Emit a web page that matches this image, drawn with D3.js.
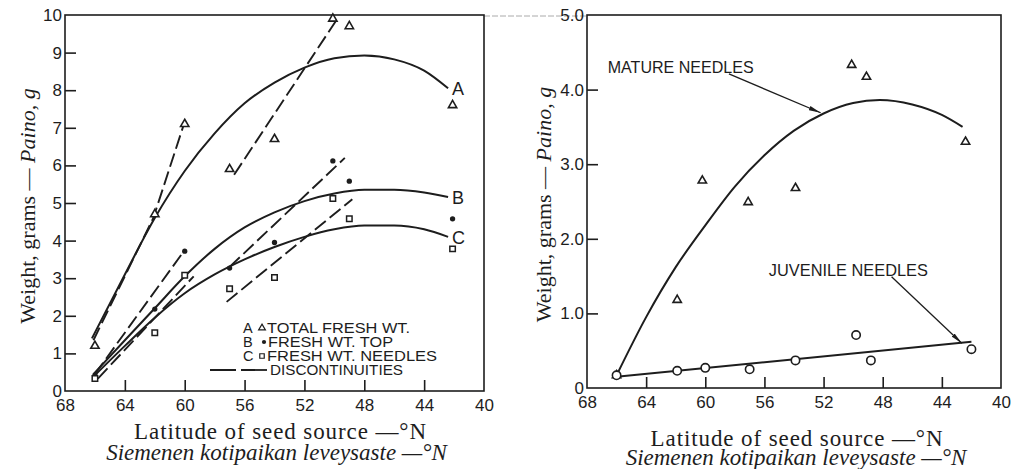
<!DOCTYPE html>
<head>
    <meta charset="utf-8">
    <title>Weight vs latitude of seed source</title>
    <script src="https://cdn.jsdelivr.net/npm/d3@7"></script>
    <style>
        body { margin: 0; background: #fff; }
    </style>
</head>
<body>

<div id="container"></div>

<script>

// Dimensions
const width = 1018;
const height = 469;
const ink = "#1d1d1d";

// ---- Left panel data (latitude in °N, weight in g)
const latLeft = [66, 62, 60, 57, 54, 50.1, 49, 42.1];
const totalWt = [1.2, 4.7, 7.1, 5.9, 6.7, 9.9, 9.7, 7.6];
const topWt = [0.42, 2.18, 3.72, 3.27, 3.95, 6.12, 5.58, 4.58];
const needleWt = [0.33, 1.55, 3.08, 2.72, 3.02, 5.12, 4.58, 3.78];

// fitted curves
const curveA = [[66.2, 1.4], [64, 3.1], [62, 4.6], [60, 5.85], [58, 6.85], [56, 7.65], [54, 8.2], [52, 8.6], [50, 8.85], [48, 8.92], [46, 8.82], [44, 8.52], [42.4, 8.05]];
const curveB = [[66.1, 0.45], [64, 1.35], [62, 2.2], [60, 3.05], [58, 3.78], [56, 4.35], [54, 4.75], [52, 5.05], [50, 5.25], [48, 5.35], [46, 5.35], [44, 5.28], [42.4, 5.16]];
const curveC = [[66.1, 0.38], [64, 1.2], [62, 1.95], [60, 2.6], [58, 3.1], [56, 3.5], [54, 3.83], [52, 4.1], [50, 4.3], [48, 4.4], [46, 4.4], [44, 4.3], [42.4, 4.1]];

// discontinuities (dashed)
const dashA1 = [[66.1, 1.35], [62.1, 4.6], [60.05, 7.1]];
const dashA2 = [[56.7, 5.75], [49.8, 9.9]];
const dashB1 = [[66, 0.45], [60, 3.75]];
const dashB2 = [[57, 3.3], [49.3, 6.2]];
const dashC1 = [[65.8, 0.33], [59.4, 3.05]];
const dashC2 = [[57.2, 2.37], [48.8, 5.1]];

const legendLetters = ["A", "B", "C"];
const legendLabels = ["TOTAL  FRESH WT.", "FRESH WT. TOP", "FRESH WT. NEEDLES"];
const legendDash = "DISCONTINUITIES";

// ---- Right panel data
const latMature = [66, 61.9, 60.2, 57.1, 53.9, 50.1, 49.1, 42.4];
const matureWt = [0.17, 1.18, 2.78, 2.49, 2.68, 4.33, 4.17, 3.3];
const latJuvenile = [66, 61.9, 60, 57, 53.9, 49.8, 48.8, 42.0];
const juvenileWt = [0.17, 0.23, 0.27, 0.25, 0.37, 0.71, 0.37, 0.52];

const curveMature = [[66, 0.17], [64, 0.95], [62, 1.62], [60, 2.18], [58, 2.7], [56, 3.12], [54, 3.45], [52, 3.68], [50, 3.82], [48.2, 3.86], [46, 3.8], [44, 3.66], [42.6, 3.5]];
const lineJuvenile = [[66, 0.15], [42.0, 0.62]];

const matureArrow = [[58.4, 4.21], [52.2, 3.69]];
const juvenileArrow = [[47.4, 1.49], [42.65, 0.6]];

// ticks
const latTicks = [68, 64, 60, 56, 52, 48, 44, 40];
const leftYTicks = d3.range(0, 11);
const rightYTicks = [0, 1, 2, 3, 4, 5];

// Create the SVG container.
const svg = d3.create("svg")
    .attr("width", width)
    .attr("height", height)
    .style("background", "#fff");

const defs = svg.append("defs");
defs.append("marker")
    .attr("id", "arrow")
    .attr("viewBox", "0 0 12 6")
    .attr("refX", 12).attr("refY", 3)
    .attr("markerWidth", 12).attr("markerHeight", 6)
    .attr("markerUnits", "userSpaceOnUse")
    .attr("orient", "auto")
    .append("path")
    .attr("d", "M0,0.8 L12,3 L0,5.2 Z")
    .attr("fill", ink);

// faint scan line joining the two frames at the top
svg.append("line")
    .attr("x1", 484).attr("x2", 588).attr("y1", 16).attr("y2", 16)
    .attr("stroke", "#aaa").attr("stroke-width", 1)
    .attr("stroke-dasharray", "6,2");

const sans = "'Liberation Sans', Arial, sans-serif";
const serif = "'Liberation Serif', 'Times New Roman', serif";

function drawPanel(g, x, y, yTicks, yFmt, opt) {
    const [x0, x1] = x.range();
    const [y0, y1] = y.range();

    // bottom axis, ticks pointing inside
    const xa = g.append("g")
        .attr("transform", `translate(0,${y0})`)
        .call(d3.axisBottom(x).tickValues(latTicks).tickSize(-11).tickPadding(8).tickSizeOuter(0));
    xa.select(".domain").remove();
    xa.selectAll(".tick").filter(d => d === 68 || d === 40).select("line").remove();

    const ya = g.append("g")
        .attr("transform", `translate(${x0},0)`)
        .call(d3.axisLeft(y).tickValues(yTicks).tickFormat(yFmt).tickSize(-11).tickPadding(3).tickSizeOuter(0));
    ya.select(".domain").remove();
    ya.selectAll(".tick").filter((d, i) => i === 0 || i === yTicks.length - 1).select("line").remove();

    g.selectAll(".tick line").attr("stroke", ink).attr("stroke-width", 1.6);
    g.selectAll(".tick text")
        .attr("fill", ink)
        .style("font-family", sans)
        .style("font-size", "17px");

    // frame
    g.append("rect")
        .attr("x", x0).attr("y", y1)
        .attr("width", x1 - x0).attr("height", y0 - y1)
        .attr("fill", "none").attr("stroke", ink).attr("stroke-width", 1.6);

    // axis titles
    const cx = (x0 + x1) / 2;
    g.append("text")
        .attr("x", cx + opt.dx1).attr("y", y0 + opt.b1)
        .attr("text-anchor", "middle")
        .style("font-family", serif).style("font-size", "23px")
        .style("letter-spacing", "0.9px")
        .attr("fill", ink)
        .text("Latitude of seed source —°N");
    g.append("text")
        .attr("x", cx + opt.dx2).attr("y", y0 + opt.b2)
        .attr("text-anchor", "middle")
        .style("font-family", serif).style("font-size", "23px")
        .style("font-style", "italic")
        .attr("fill", ink)
        .text("Siemenen kotipaikan leveysaste —°N");

    const yt = g.append("text")
        .attr("transform", `translate(${x0 - opt.ty},${(y0 + y1) / 2 + 3}) rotate(-90)`)
        .attr("text-anchor", "middle")
        .style("font-family", serif).style("font-size", "22px")
        .attr("fill", ink);
    yt.append("tspan").text("Weight, grams — ");
    yt.append("tspan").style("font-style", "italic").text("Paino, g");
}

function path(g, pts, x, y, dashed, curve) {
    const line = d3.line()
        .x(d => x(d[0]))
        .y(d => y(d[1]))
        .curve(curve || d3.curveLinear);
    return g.append("path")
        .attr("d", line(pts))
        .attr("fill", "none")
        .attr("stroke", ink)
        .attr("stroke-width", dashed ? 1.9 : 2)
        .attr("stroke-dasharray", dashed ? "14,5" : null);
}

function points(g, lats, vals, x, y, kind) {
    const sel = g.append("g").selectAll("path")
        .data(lats.map((d, i) => [d, vals[i]]))
        .join("path")
        .attr("transform", d => `translate(${x(d[0])},${y(d[1])})`);
    if (kind === "triangle") {
        sel.attr("d", d3.symbol(d3.symbolTriangle, 30)())
            .attr("fill", "#fff").attr("stroke", ink).attr("stroke-width", 1.6);
    } else if (kind === "square") {
        sel.attr("d", d3.symbol(d3.symbolSquare, 30)())
            .attr("fill", "#fff").attr("stroke", ink).attr("stroke-width", 1.5);
    } else if (kind === "dot") {
        sel.attr("d", d3.symbol(d3.symbolCircle, 22)())
            .attr("fill", ink);
    } else {
        sel.attr("d", d3.symbol(d3.symbolCircle, 55)())
            .attr("fill", "#fff").attr("stroke", ink).attr("stroke-width", 1.6);
    }
}

// ================= LEFT PANEL =================
const xL = d3.scaleLinear().domain([68, 40]).range([65, 484]);
const yL = d3.scaleLinear().domain([0, 10]).range([391, 15]);
const left = svg.append("g");
drawPanel(left, xL, yL, leftYTicks, d => d, { dx1: 6, dx2: 2, b1: 48, b2: 69, ty: 30 });

[curveA, curveB, curveC].forEach(c => path(left, c, xL, yL, false, d3.curveMonotoneX));
[dashA1, dashA2, dashB1, dashB2, dashC1, dashC2].forEach(c => path(left, c, xL, yL, true));

points(left, latLeft, totalWt, xL, yL, "triangle");
points(left, latLeft, topWt, xL, yL, "dot");
points(left, latLeft, needleWt, xL, yL, "square");

// curve letters at the end of each curve
left.selectAll("text.endlabel")
    .data([curveA, curveB, curveC].map((c, i) => ({ p: c[c.length - 1], t: legendLetters[i] })))
    .join("text")
    .attr("class", "endlabel")
    .attr("x", d => xL(d.p[0]) + 4)
    .attr("y", d => yL(d.p[1]) + 7)
    .style("font-family", sans).style("font-size", "18px")
    .attr("fill", ink)
    .text(d => d.t);

// legend
const legend = left.append("g").attr("transform", "translate(243,333)");
const rowH = 14;
const kinds = ["triangle", "dot", "square"];
const labelWidths = [143, 125, 170];
legendLetters.forEach((l, i) => {
    const yy = i * rowH;
    legend.append("text").attr("x", 0).attr("y", yy)
        .style("font-family", sans).style("font-size", "14.5px").attr("fill", ink)
        .text(l);
    const m = legend.append("path")
        .attr("transform", `translate(${kinds[i] === "dot" ? 21 : 19},${yy - 5})`);
    if (kinds[i] === "triangle") m.attr("d", d3.symbol(d3.symbolTriangle, 20)()).attr("fill", "#fff").attr("stroke", ink).attr("stroke-width", 1.2);
    if (kinds[i] === "dot") m.attr("d", d3.symbol(d3.symbolCircle, 14)()).attr("fill", ink);
    if (kinds[i] === "square") m.attr("d", d3.symbol(d3.symbolSquare, 20)()).attr("fill", "#fff").attr("stroke", ink).attr("stroke-width", 1.2);
    legend.append("text").attr("x", i === 1 ? 25 : 24).attr("y", yy)
        .style("font-family", sans).style("font-size", "14.5px").attr("fill", ink)
        .attr("textLength", labelWidths[i]).attr("lengthAdjust", "spacingAndGlyphs")
        .text(legendLabels[i]);
});
legend.append("line")
    .attr("x1", -33).attr("x2", 25).attr("y1", 3 * rowH - 5).attr("y2", 3 * rowH - 5)
    .attr("stroke", ink).attr("stroke-width", 1.8).attr("stroke-dasharray", "26,5");
legend.append("text").attr("x", 27).attr("y", 3 * rowH)
    .style("font-family", sans).style("font-size", "14.5px").attr("fill", ink)
    .attr("textLength", 133).attr("lengthAdjust", "spacingAndGlyphs")
    .text(legendDash);

// ================= RIGHT PANEL =================
const xR = d3.scaleLinear().domain([68, 40]).range([587, 1001]);
const yR = d3.scaleLinear().domain([0, 5]).range([388, 15]);
const right = svg.append("g");
drawPanel(right, xR, yR, rightYTicks, d => d === 0 ? "0" : d.toFixed(1), { dx1: 3, dx2: 2, b1: 58, b2: 77, ty: 36 });

path(right, curveMature, xR, yR, false, d3.curveMonotoneX);
path(right, lineJuvenile, xR, yR, false);

points(right, latMature, matureWt, xR, yR, "triangle");
points(right, latJuvenile, juvenileWt, xR, yR, "circle");

// annotations
[[matureArrow, "MATURE NEEDLES", 146, 66.6, 4.22], [juvenileArrow, "JUVENILE NEEDLES", 159, 55.7, 1.50]].forEach(a => {
    right.append("line")
        .attr("x1", xR(a[0][0][0])).attr("y1", yR(a[0][0][1]))
        .attr("x2", xR(a[0][1][0])).attr("y2", yR(a[0][1][1]))
        .attr("stroke", ink).attr("stroke-width", 1.3)
        .attr("marker-end", "url(#arrow)");
    right.append("text")
        .attr("x", xR(a[3])).attr("y", yR(a[4]))
        .style("font-family", sans).style("font-size", "17px").attr("fill", ink)
        .attr("textLength", a[2]).attr("lengthAdjust", "spacingAndGlyphs")
        .text(a[1]);
});

// Append the SVG element.
container.append(svg.node());

</script>

</body>
